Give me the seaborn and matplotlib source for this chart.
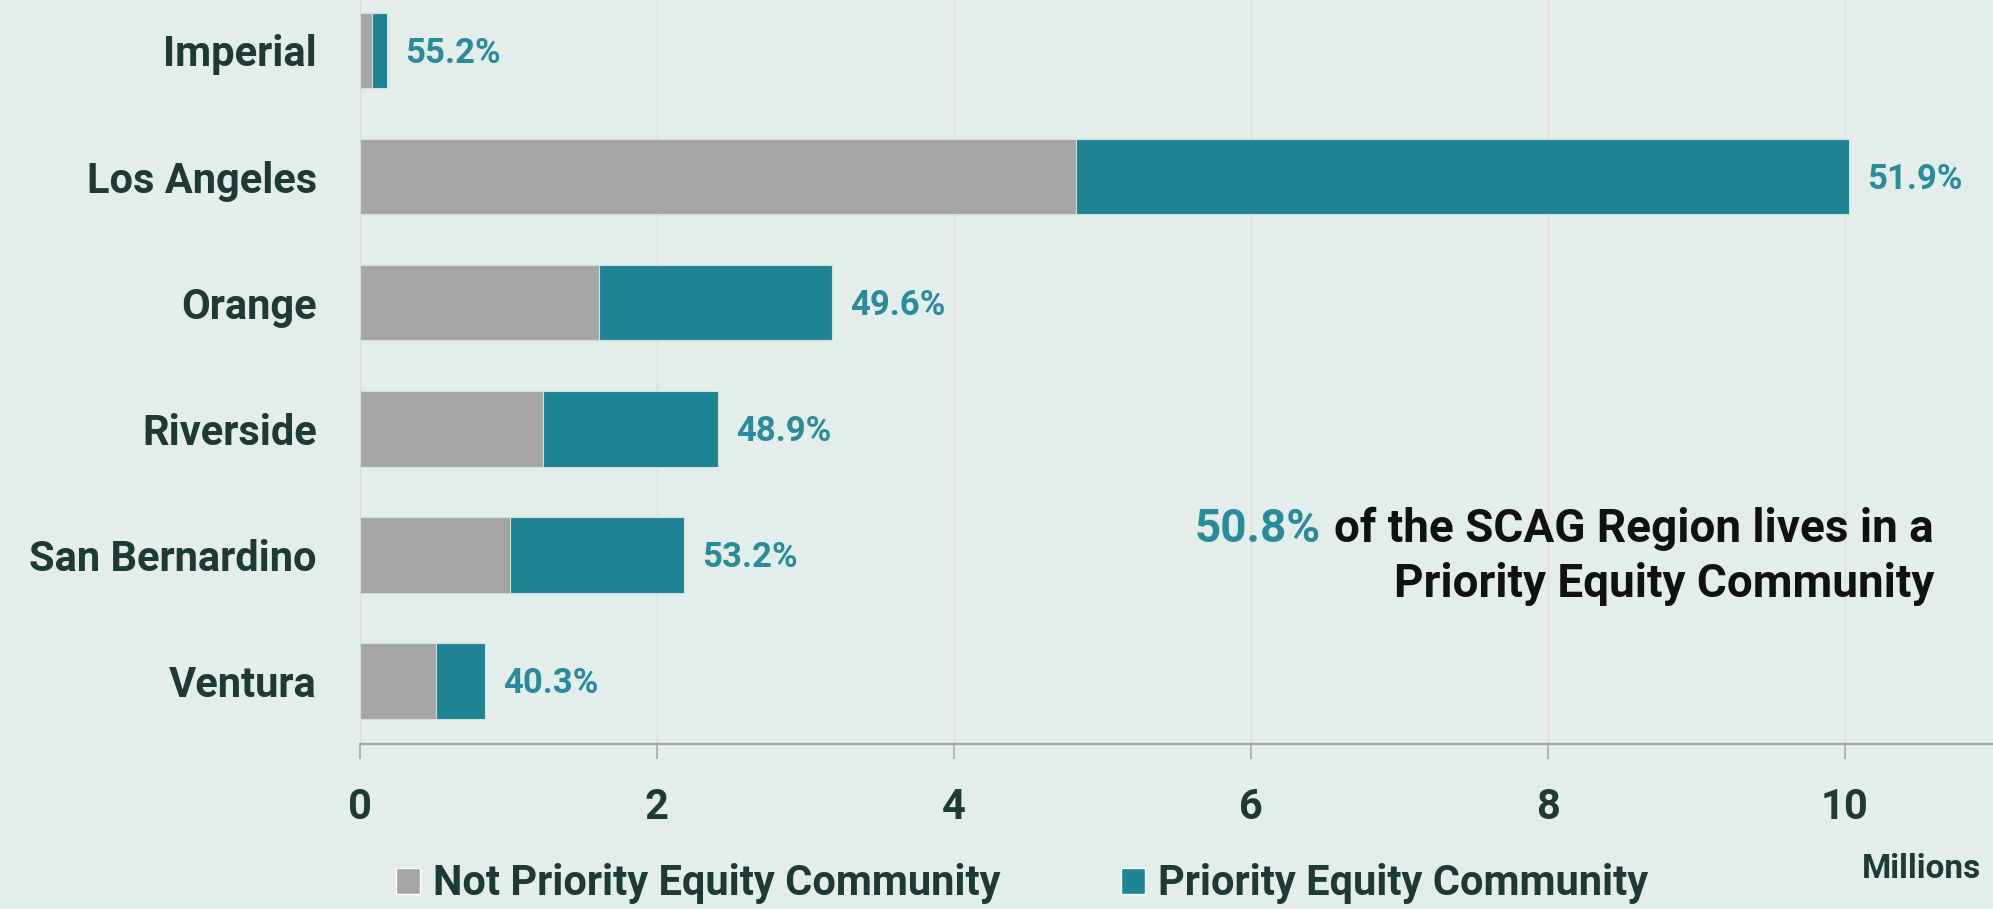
import matplotlib
matplotlib.use("Agg")
import matplotlib.pyplot as plt
from matplotlib.patches import Patch
import seaborn as sns
import pandas as pd

# Population by county, millions
counties = ["Imperial", "Los Angeles", "Orange", "Riverside", "San Bernardino", "Ventura"]
not_priority = [0.08, 4.82, 1.61, 1.23, 1.01, 0.51]
priority = [0.10, 5.21, 1.57, 1.18, 1.17, 0.335]
pct_labels = ["55.2%", "51.9%", "49.6%", "48.9%", "53.2%", "40.3%"]

BG = "#E3EDE9"
GRAY = "#A5A5A5"
TEAL = "#1E8393"
TEAL_TXT = "#2A8C9B"
DARK = "#1D3A35"
WT = "bold"

sns.set_theme(style="white")
plt.rcParams["font.family"] = ["Roboto", "DejaVu Sans"]

df = pd.DataFrame({"county": counties, "not_pec": not_priority, "pec": priority})
df["total"] = df["not_pec"] + df["pec"]

W, H = 1993, 909
fig = plt.figure(figsize=(W / 100, H / 100), dpi=100, facecolor=BG)
ax = fig.add_axes([360 / W, 1 - 744 / H, (W - 360) / W, 744 / H])
ax.set_facecolor(BG)

# stacked: total in teal, not-priority overlaid in gray
sns.barplot(data=df, x="total", y="county", orient="h", width=0.6, color=TEAL,
            saturation=1, edgecolor="#cfe0dc", linewidth=0.8, ax=ax)
sns.barplot(data=df, x="not_pec", y="county", orient="h", width=0.6, color=GRAY,
            saturation=1, edgecolor="#cfe0dc", linewidth=0.8, ax=ax)

ax.set_xlim(0, 11)
ax.set_ylim(5.5, -0.4)
ax.set_xticks([0, 2, 4, 6, 8, 10])
ax.set_xlabel("")
ax.set_ylabel("")

for s in ["top", "right", "left"]:
    ax.spines[s].set_visible(False)
ax.spines["bottom"].set_color("#A8A8A8")
ax.spines["bottom"].set_linewidth(1.6)

ax.grid(axis="x", color="#E2DADD", linewidth=1.0)
ax.set_axisbelow(True)

ax.tick_params(axis="y", length=0, pad=31, labelsize=30, labelcolor=DARK)
ax.tick_params(axis="x", length=11, width=1.2, color="#A8A8A8", pad=20,
               labelsize=30, labelcolor=DARK, bottom=True)
for lab in ax.get_yticklabels() + ax.get_xticklabels():
    lab.set_fontweight(WT)

for i, (tot, lab) in enumerate(zip(df["total"], pct_labels)):
    ax.annotate(lab, xy=(tot, i), xytext=(13, -2), textcoords="offset points",
                ha="left", va="center", fontsize=25, color=TEAL_TXT, fontweight=WT)

# callout
t2 = fig.text(1934 / W, 1 - 597 / H, "Priority Equity Community", ha="right",
              va="baseline", fontsize=33, color="#111111", fontweight=WT)
t1 = fig.text(1934 / W, 1 - 542 / H, "of the SCAG Region lives in a", ha="right",
              va="baseline", fontsize=33, color="#111111", fontweight=WT)
fig.canvas.draw()
ax.annotate("50.8%", xy=(0, 0), xycoords=t1, xytext=(-10, 0), textcoords="offset points",
            ha="right", va="bottom", fontsize=33, color=TEAL_TXT, fontweight=WT,
            annotation_clip=False)

fig.text(1981 / W, 1 - 878 / H, "Millions", ha="right", va="baseline",
         fontsize=24, color=DARK, fontweight=WT)

handles = [Patch(facecolor=GRAY, label="Not Priority Equity Community"),
           Patch(facecolor=TEAL, label="Priority Equity Community")]
leg = fig.legend(handles=handles, loc="center left", bbox_to_anchor=(396 / W, 1 - 884 / H),
                 ncol=2, frameon=False, fontsize=30, handlelength=0.58, handleheight=0.58,
                 handletextpad=0.3, columnspacing=2.9, borderaxespad=0, borderpad=0)
for t in leg.get_texts():
    t.set_color(DARK)
    t.set_fontweight(WT)

fig.savefig("out.png", dpi=100, facecolor=BG)
